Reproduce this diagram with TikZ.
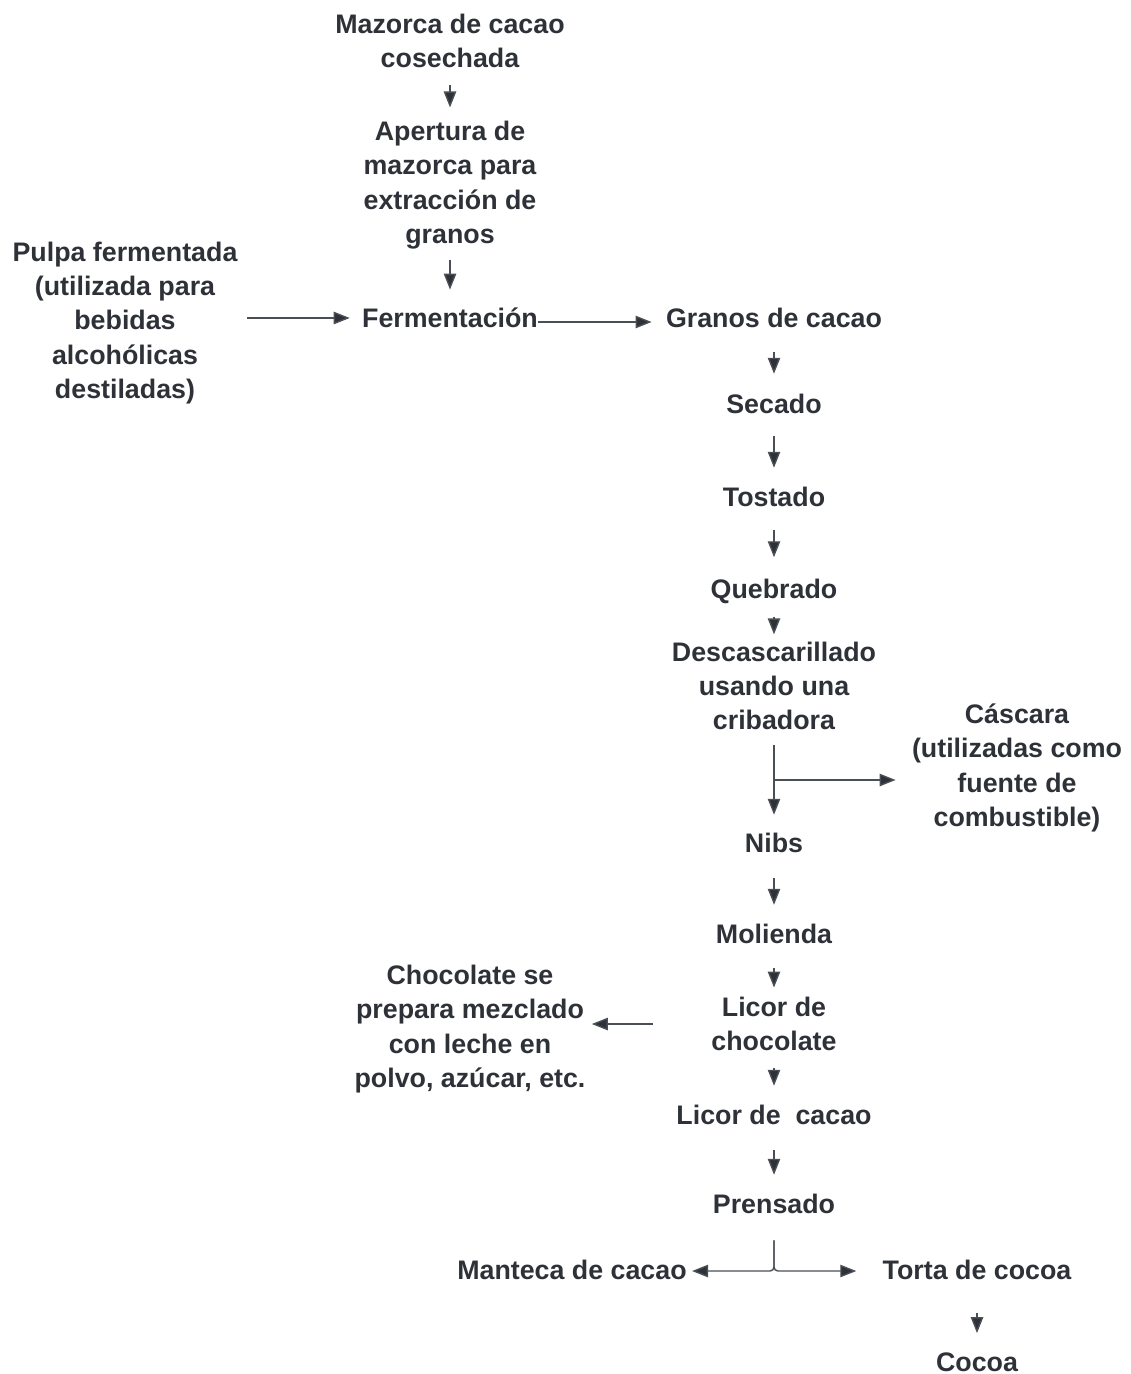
\documentclass[tikz,border=0pt]{standalone}
\usepackage{fontspec}
\setmainfont{Liberation Sans}
\usetikzlibrary{arrows.meta}
\definecolor{txt}{HTML}{2E3238}
\definecolor{ln}{HTML}{4A4F55}
\begin{document}
\begin{tikzpicture}[x=.5pt, y=-.5pt, >={Triangle[length=8pt,width=6.2pt,fill=txt]},
  lbl/.style={inner sep=0pt, align=center, text=txt, font=\fontsize{13.4}{17.2}\selectfont\bfseries},
  arr/.style={->, draw=ln, line width=.7pt}]
\useasboundingbox (0,0) rectangle (1130,1374);
% main line
\node[lbl] (mazorca) at (450,41) {Mazorca de cacao\\cosechada};
\node[lbl] (apertura) at (450,185) {Apertura de\\mazorca para\\extracción de\\granos};
\node[lbl] (ferm) at (450,318) {Fermentación};
\node[lbl] (pulpa) at (125,323) {Pulpa fermentada\\(utilizada para\\bebidas\\alcohólicas\\destiladas)};
\node[lbl] (granos) at (774,318) {Granos de cacao};
\node[lbl] (secado) at (774,404) {Secado};
\node[lbl] (tostado) at (774,497) {Tostado};
\node[lbl] (quebrado) at (774,591) {Quebrado};
\node[lbl] (descas) at (774,686) {Descascarillado\\usando una\\cribadora};
\node[lbl] (cascara) at (1017,768) {Cáscara\\(utilizadas como\\fuente de\\combustible)};
\node[lbl] (nibs) at (774,843) {Nibs};
\node[lbl] (molienda) at (774,934) {Molienda};
\node[lbl] (licorchoc) at (774,1024) {Licor de\\chocolate};
\node[lbl] (choco) at (470,1029) {Chocolate se\\prepara mezclado\\con leche en\\polvo, azúcar, etc.};
\node[lbl] (licorcacao) at (774,1115) {Licor de\ \ cacao};
\node[lbl] (prensado) at (774,1204) {Prensado};
\node[lbl] (manteca) at (572,1270) {Manteca de cacao};
\node[lbl] (torta) at (977,1270) {Torta de cocoa};
\node[lbl] (cocoa) at (977,1362) {Cocoa};
% arrows
\draw[arr, shorten <=8.5pt, shorten >=6.5pt] (mazorca) -- (apertura);
\draw[arr, shorten <=5pt, shorten >=9pt] (apertura) -- (ferm);
\draw[arr, shorten <=4.5pt, shorten >=6pt] (pulpa.east |- ferm) -- (ferm);
\draw[arr, shorten >=7pt] ([yshift=-2pt]ferm.east) -- ([yshift=-2pt]granos.west);
\draw[arr, shorten <=12pt, shorten >=10pt] (granos) -- (secado);
\draw[arr, shorten <=11pt, shorten >=9.5pt] (secado) -- (tostado);
\draw[arr, shorten <=11.5pt, shorten >=10.5pt] (tostado) -- (quebrado);
\draw[arr, shorten <=6.5pt, shorten >=3.5pt] (quebrado) -- (descas);
\draw[arr, shorten <=7pt, shorten >=9pt] (descas) -- (nibs);
\coordinate (split1) at (774,780);
\draw[arr, shorten >=8pt] (split1) -- (split1 -| cascara.west);
\draw[arr, shorten <=12.5pt, shorten >=9.5pt] (nibs) -- (molienda);
\draw[arr, shorten <=12pt, shorten >=4.5pt] (molienda) -- (licorchoc);
\draw[arr, shorten <=8.5pt, shorten >=9.5pt] (licorchoc) -- (licorcacao);
\draw[arr, shorten <=12.5pt, shorten >=9.5pt] (licorcacao) -- (prensado);
\draw[arr, shorten <=29pt, shorten >=3pt] (licorchoc.west) -- (licorchoc.west -| choco.east);
\coordinate (split2) at (774,1271);
\draw[arr, rounded corners=2pt, shorten <=13pt, shorten >=2.5pt] (prensado) -- (split2) -- (split2 -| manteca.east);
\draw[arr, rounded corners=2pt, shorten <=13pt, shorten >=13pt] (prensado) -- (split2) -- (split2 -| torta.west);
\draw[arr, shorten <=16.5pt, shorten >=9.5pt] (torta) -- (cocoa);
\end{tikzpicture}
\end{document}
